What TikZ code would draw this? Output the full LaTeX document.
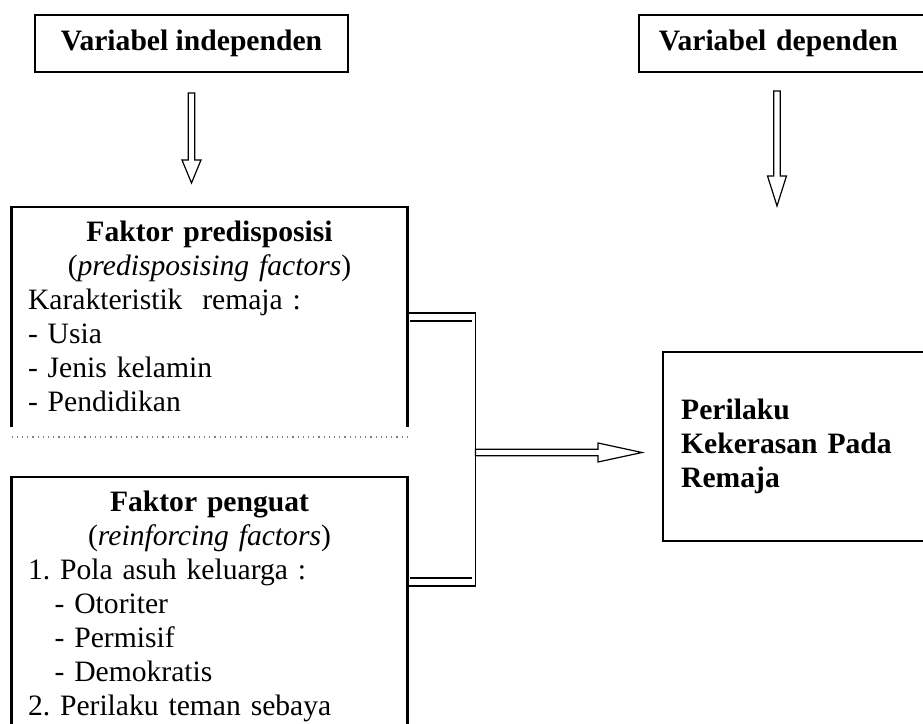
\documentclass[tikz,border=0pt]{standalone}
\usepackage{fontspec}
\setmainfont{Liberation Serif}
\usepackage{tikz}
\usetikzlibrary{positioning,calc}
\setlength{\parindent}{0pt}
\frenchspacing

\begin{document}
\begin{tikzpicture}[
    x=0.5pt, y=-0.5pt,
    every node/.style={font=\fontsize{14.8}{17}\selectfont},
    vnode/.style={draw, line width=0.9pt, minimum height=28.5pt, inner xsep=10pt},
    fnode/.style={anchor=north, text width=181.5pt, inner xsep=8pt, inner ysep=7pt},
    rnode/.style={draw, line width=1.2pt, anchor=north west, minimum height=94.5pt, text width=150pt, inner xsep=9pt, align=left},
    edge/.style={line width=1.2pt},
    brk/.style={line width=0.6pt},
    fat/.style={line width=0.6pt, line join=miter, to path={
        ($(\tikztostart)!1.6pt!90:(\tikztotarget)$)
        -- ($(\tikztotarget)!#1!(\tikztostart)!1.6pt!90:(\tikztotarget)$)
        -- ($(\tikztotarget)!#1!(\tikztostart)!4.75pt!90:(\tikztotarget)$)
        -- (\tikztotarget)
        -- ($(\tikztotarget)!#1!(\tikztostart)!4.75pt!-90:(\tikztotarget)$)
        -- ($(\tikztotarget)!#1!(\tikztostart)!1.6pt!-90:(\tikztotarget)$)
        -- ($(\tikztostart)!1.6pt!-90:(\tikztotarget)$) -- cycle}},
    fat/.default=11.5pt
]
    \useasboundingbox (0,0) rectangle (923,724);
    \clip (0,0) rectangle (923,724);

    \node[vnode, minimum width=156.5pt] (vi) at (191.5,43.5) {\textbf{Variabel independen}};
    \node[vnode, anchor=west, text width=160pt, align=left] (vd) at (638,43.5) {\textbf{Variabel dependen}};

    \node[fnode] (pred) at (209.5,207) {\centering\textbf{Faktor predisposisi}\\(\textit{predisposising factors})\par
        \raggedright Karakteristik\ \ remaja :\\- Usia\\- Jenis kelamin\\- Pendidikan};
    \node[fnode] (pen) at (209.5,477) {\centering\textbf{Faktor penguat}\\(\textit{reinforcing factors})\par
        \raggedright 1. Pola asuh keluarga :\\\hspace*{0.9em}- Otoriter\\\hspace*{0.9em}- Permisif\\\hspace*{0.9em}- Demokratis\\2. Perilaku teman sebaya};

    \node[rnode] (rem) at (662,351) {\textbf{Perilaku}\\\textbf{Kekerasan Pada}\\\textbf{Remaja}};

    % factor boxes, open at the bottom
    \draw[edge] ($(pred.north west)+(0,220)$) |- (pred.north east) -- ++(0,220);
    \draw[dotted, line width=0.6pt, gray] ($(pred.north west)+(0,230)$) -- ++(398,0);
    \draw[edge] ($(pen.north west)+(0,260)$) |- (pen.north east) -- ++(0,260);

    % bracket joining both factors
    \coordinate (bt) at ($(pred.north east)+(0,106)$);
    \coordinate (bb) at ($(pen.north east)+(0,109)$);
    \coordinate (bm) at ($(bt)!0.5!(bb)+(68,3)$);
    \draw[brk] (bt) -- ++(68,0) |- (bb);
    \draw[brk] ($(bt)+(3,8)$) -- ++(62,0);
    \draw[brk] ($(bb)+(3,-8)$) -- ++(62,0);

    \coordinate (ia1) at ($(vi.south)+(0,20)$);
    \coordinate (ia2) at ($(ia1 |- pred.north)+(0,-24)$);
    \coordinate (da1) at ($(vd.south west)+(139,18)$);
    \coordinate (da2) at ($(da1)+(0,115)$);
    \coordinate (ae) at ($(bm -| rem.west)+(-20,0)$);

    \draw[fat] (ia1) to (ia2);
    \draw[fat=15pt] (da1) to (da2);
    \draw[fat=22pt] (bm) to (ae);
\end{tikzpicture}
\end{document}
